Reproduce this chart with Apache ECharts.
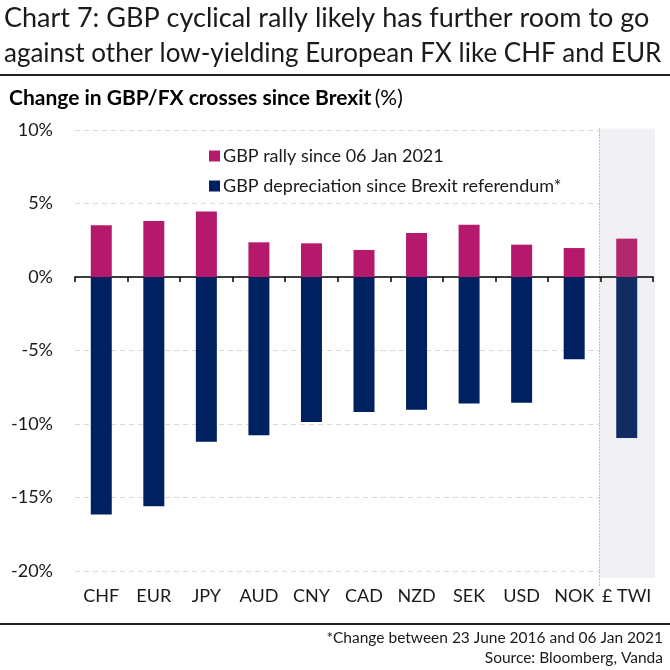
<!DOCTYPE html>
<html><head><meta charset="utf-8">
<script src="https://cdn.jsdelivr.net/npm/echarts@6/dist/echarts.min.js"></script>
<style>html,body{margin:0;padding:0;background:#fff}#c{width:670px;height:670px}</style>
</head><body><div id="c"></div>
<script>
const categories = ['CHF','EUR','JPY','AUD','CNY','CAD','NZD','SEK','USD','NOK','£ TWI'];
const rallySince2021 = [3.52,3.81,4.45,2.36,2.29,1.84,3.0,3.56,2.2,1.97,2.61];
const depreciationSinceBrexit = [-16.15,-15.59,-11.21,-10.76,-9.87,-9.19,-9.03,-8.6,-8.55,-5.6,-10.95];
const yTicks = [-20,-15,-10,-5,0,5,10];
const shadedCategory = '£ TWI';
const shadeRange = [10.1,-20.5];

const FONT = 'Lato';
const MAG = '#B5196B', NAVY = '#00215F';
const MAG_T = '#B2286F', NAVY_T = '#112C63';
const last = categories.length - 1;

const chart = echarts.init(document.getElementById('c'), null, {renderer:'canvas'});
chart.setOption({
  animation:false,
  textStyle:{fontFamily:FONT},
  grid:{left:75,right:17,top:130,bottom:99},
  legend:{
    orient:'vertical', left:204, top:142, itemGap:12, itemWidth:11, itemHeight:11, icon:'rect',
    textStyle:{fontFamily:FONT,fontSize:18,color:'#1a1a1a',padding:[0,0,0,-2]},
    data:['GBP rally since 06 Jan 2021','GBP depreciation since Brexit referendum*']
  },
  xAxis:[
    {type:'category',data:categories,position:'bottom',axisLine:{show:false,onZero:false},axisTick:{show:false},
     axisLabel:{margin:16,fontSize:18,color:'#1a1a1a',fontFamily:FONT,interval:0}},
    {type:'category',data:categories,position:'bottom',axisLine:{show:true,onZero:true,lineStyle:{color:'#000',width:1.5}},
     axisTick:{show:true,length:5,lineStyle:{color:'#000',width:1.5}},axisLabel:{show:false}}
  ],
  yAxis:{type:'value',min:yTicks[0],max:yTicks[yTicks.length-1],interval:5,
    axisLine:{show:false},axisTick:{show:false},
    axisLabel:{formatter:'{value}%',fontSize:18,color:'#1a1a1a',margin:22,fontFamily:FONT},
    splitLine:{lineStyle:{color:'#d9d9d9',type:[5,4],width:1}}},
  series:[
    {type:'custom',xAxisIndex:0,z:0,silent:true,
     data:[[categories.indexOf(shadedCategory)]],
     renderItem:function(params,api){
       const x = api.value(0);
       const top = api.coord([x,shadeRange[0]]);
       const bot = api.coord([x,shadeRange[1]]);
       const bw = api.size([1,0])[0];
       const x0 = top[0]-bw/2-1;
       return {type:'group',children:[
         {type:'rect',shape:{x:x0,y:top[1],width:bw+3,height:bot[1]-top[1]},style:{fill:'#F1F1F5'}},
         {type:'line',shape:{x1:x0,y1:top[1],x2:x0,y2:bot[1]+7},style:{stroke:'#8a8a8a',lineWidth:1,lineDash:[1,2]}}
       ]};
     }},
    {name:'GBP rally since 06 Jan 2021',type:'bar',stack:'a',barWidth:21,xAxisIndex:0,z:2,
     itemStyle:{color:MAG},
     data:rallySince2021.map((v,i)=> i===last?{value:v,itemStyle:{color:MAG_T}}:v)},
    {name:'GBP depreciation since Brexit referendum*',type:'bar',stack:'a',barWidth:21,xAxisIndex:0,z:2,
     itemStyle:{color:NAVY},
     data:depreciationSinceBrexit.map((v,i)=> i===last?{value:v,itemStyle:{color:NAVY_T}}:v)}
  ],
  graphic:[
    {type:'text',left:4,top:5,style:{text:'Chart 7: GBP cyclical rally likely has further room to go',font:'27px '+FONT,fill:'#1a1a1a'}},
    {type:'text',left:4,top:41,style:{text:'against other low-yielding European FX like CHF and EUR',font:'26px '+FONT,fill:'#1a1a1a'}},
    {type:'line',shape:{x1:0,y1:75,x2:670,y2:75},style:{stroke:'#222',lineWidth:2}},
    {type:'text',left:9,top:88,style:{rich:{b:{fontFamily:FONT,fontSize:21,fontWeight:'bold',fill:'#000'},r:{fontFamily:FONT,fontSize:21,fill:'#000'}},
      text:'{b|Change in GBP/FX crosses since Brexit} {r|(%)}'}},
    {type:'line',shape:{x1:0,y1:624,x2:670,y2:624},style:{stroke:'#222',lineWidth:2}},
    {type:'text',right:7,top:630,style:{text:'*Change between 23 June 2016 and 06 Jan 2021',font:'15.5px '+FONT,fill:'#1a1a1a',align:'right'}},
    {type:'text',right:7,top:650,style:{text:'Source: Bloomberg, Vanda',font:'15.5px '+FONT,fill:'#1a1a1a',align:'right'}}
  ]
});
</script></body></html>
